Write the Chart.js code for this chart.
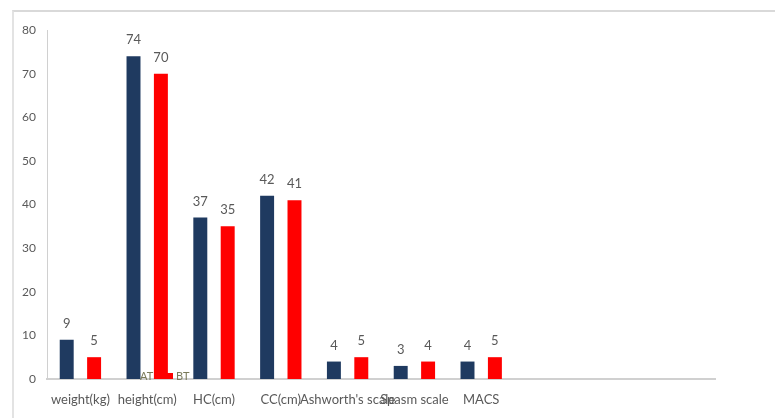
<!DOCTYPE html>
<html>
<head>
<meta charset="utf-8">
<script src="https://cdn.jsdelivr.net/npm/chart.js@4"></script>
<style>
  html, body { margin: 0; padding: 0; background: #fff; }
  #wrap { position: relative; width: 775px; height: 418px; }
  #frame { position: absolute; left: 12px; top: 10px; right: 0; bottom: 0;
           border-top: 2px solid #d9d9d9; border-left: 2px solid #e3e3e3; }
  canvas { position: absolute; left: 0; top: 0; }
</style>
</head>
<body>
<div id="wrap">
  <div id="frame"></div>
  <canvas id="chart" width="775" height="418"></canvas>
</div>
<script>
// kategori (3 slot terakhir kosong seperti di gambar asli)
const categories = ['weight(kg)', 'height(cm)', 'HC(cm)', 'CC(cm)', "Ashworth's scale", 'Spasm scale', 'MACS', '', '', ''];
const atValues = [9, 74, 37, 42, 4, 3, 4, null, null, null];
const btValues = [5, 70, 35, 41, 5, 4, 5, null, null, null];
const yTicks = [0, 10, 20, 30, 40, 50, 60, 70, 80];

const textColor = '#595959';
const fontFamily = 'Lato, "Open Sans", sans-serif';

// tulis angka di atas batang
const valueLabels = {
    id: 'valueLabels',
    afterDatasetsDraw(chart) {
        const c = chart.ctx;
        c.save();
        c.fillStyle = textColor;
        c.font = '13px ' + fontFamily;
        c.textAlign = 'center';
        c.textBaseline = 'alphabetic';
        chart.data.datasets.forEach((ds, i) => {
            chart.getDatasetMeta(i).data.forEach((bar, j) => {
                if (ds.data[j] == null) return;
                c.fillText(ds.data[j], bar.x, bar.y - 12);
            });
        });
        c.restore();
    }
};

// legenda kecil yang menempel di sumbu x (seperti aslinya)
const tinyLegend = {
    id: 'tinyLegend',
    afterDraw(chart) {
        const c = chart.ctx;
        const y = chart.chartArea.bottom - 3;
        let x = 131;
        c.save();
        c.font = '11px ' + fontFamily;
        c.textBaseline = 'middle';
        chart.data.datasets.forEach(ds => {
            c.fillStyle = ds.backgroundColor;
            c.fillRect(x, y - 3, 6, 6);
            c.fillStyle = '#7a7a5a';
            c.fillText(ds.label, x + 9, y);
            x += 36;
        });
        c.restore();
    }
};

new Chart(document.getElementById('chart'), {
    type: 'bar',
    data: {
        labels: categories,
        datasets: [
            { label: 'AT', data: atValues, backgroundColor: '#1f3a60' },
            { label: 'BT', data: btValues, backgroundColor: '#ff0000' }
        ]
    },
    options: {
        responsive: false,
        animation: false,
        layout: { padding: { top: 30, right: 60, left: 0, bottom: 0 } },
        categoryPercentage: 0.82,
        barPercentage: 0.51,
        plugins: { legend: { display: false }, tooltip: { enabled: false } },
        scales: {
            x: {
                grid: { display: false, drawTicks: false },
                border: { color: '#d0d0d0', width: 2 },
                ticks: {
                    autoSkip: false, maxRotation: 0, minRotation: 0,
                    color: textColor, font: { family: fontFamily, size: 13 }, padding: 13
                },
                afterFit(scale) { scale.height = 39; }
            },
            y: {
                min: 0, max: 80,
                afterBuildTicks(scale) { scale.ticks = yTicks.map(v => ({ value: v })); },
                grid: { display: false, drawTicks: false },
                border: { color: '#d0d0d0', width: 1 },
                ticks: { color: textColor, font: { family: fontFamily, size: 12 }, padding: 11 },
                afterFit(scale) { scale.width = 47; }
            }
        }
    },
    plugins: [valueLabels, tinyLegend]
});
</script>
</body>
</html>
